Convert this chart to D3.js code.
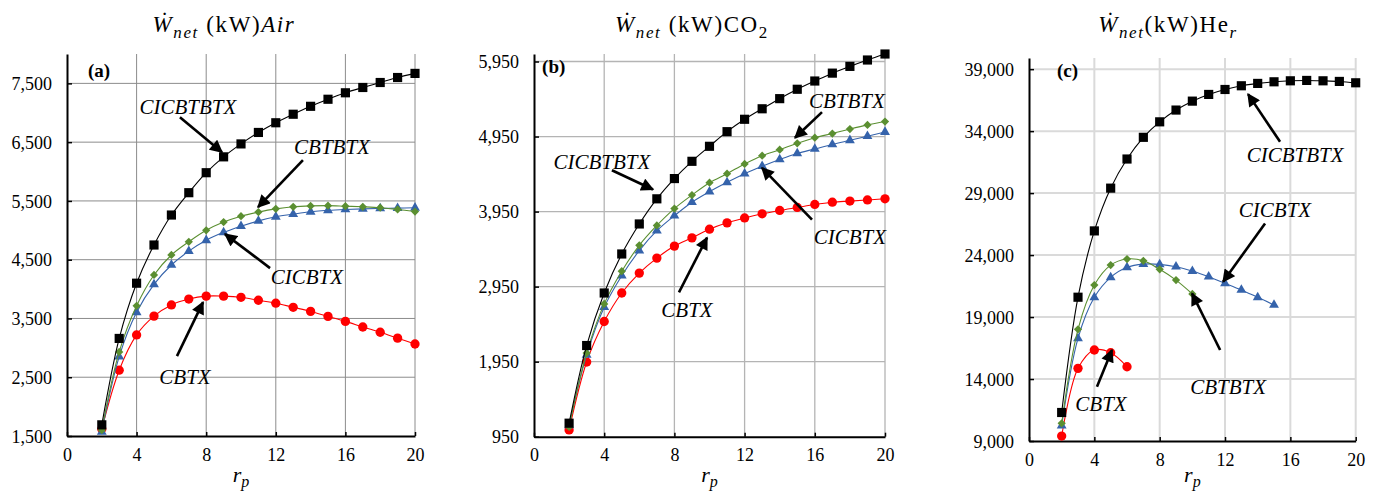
<!DOCTYPE html>
<html><head><meta charset="utf-8">
<script src="https://cdn.jsdelivr.net/npm/d3@7"></script>
<style>body{margin:0;background:#fff}svg{display:block}
text{font-family:"Liberation Serif","Times New Roman",Times,serif;}</style>
</head><body>
<svg id="c" width="1381" height="492"></svg>
<script>
// ---------- data ----------
const rpFull = [2,3,4,5,6,7,8,9,10,11,12,13,14,15,16,17,18,19,20];
const xTicks = [0,4,8,12,16,20];

const airCICBTBTX = [1690,3160,4100,4750,5260,5640,5980,6250,6470,6665,6830,6975,7110,7230,7340,7430,7515,7600,7670];
const airCBTBTX   = [1600,2930,3715,4240,4580,4805,5000,5140,5240,5310,5365,5400,5415,5420,5410,5400,5385,5355,5320];
const airCICBTX   = [1570,2850,3605,4080,4410,4645,4830,4965,5070,5160,5230,5275,5315,5340,5355,5365,5372,5378,5383];
const airCBTX     = [1620,2620,3220,3540,3730,3830,3880,3880,3860,3810,3760,3690,3620,3535,3450,3355,3265,3165,3065];
const airYTicks   = [1500,2500,3500,4500,5500,6500,7500];

const co2CICBTBTX = [1130,2165,2865,3385,3785,4120,4390,4620,4820,5015,5180,5320,5455,5580,5690,5795,5885,5970,6050];
const co2CBTBTX   = [1080,2065,2720,3155,3500,3765,3990,4170,4335,4455,4585,4695,4775,4860,4935,4990,5050,5105,5150];
const co2CICBTX   = [1100,2040,2675,3095,3430,3695,3895,4075,4215,4340,4455,4555,4645,4725,4785,4845,4900,4955,5010];
const co2CBTX     = [1040,1945,2485,2865,3130,3330,3490,3600,3715,3800,3865,3920,3965,4005,4045,4075,4090,4105,4120];
const co2YTicks   = [950,1950,2950,3950,4950,5950];

const heRpCBTBTX = [2,3,4,5,6,7,8,9,10];
const heRpCICBTX = [2,3,4,5,6,7,8,9,10,11,12,13,14,15];
const heRpCBTX   = [2,3,4,5,6];
const heCICBTBTX = [11300,20600,25950,29400,31750,33500,34750,35700,36420,36960,37360,37660,37850,37980,38060,38090,38060,38010,37900];
const heCBTBTX   = [10430,18010,21580,23190,23680,23540,22850,21980,20860];
const heCICBTX   = [10230,17280,20590,22200,23010,23270,23250,23060,22710,22250,21720,21180,20590,19970];
const heCBTX     = [9400,14860,16340,16120,14990];
const heYTicks   = [9000,14000,19000,24000,29000,34000,39000];

// series styles
const styles = {
  CICBTBTX:{color:"#000000", sym:"square"},
  CBTBTX:{color:"#5b8f31", sym:"diamond"},
  CICBTX:{color:"#3563ab", sym:"triangle"},
  CBTX:{color:"#ff0000", sym:"circle"}
};

// annotations in data units: label position, arrow start, arrow end
const panels = [
  {
    id:"a", title:[["Ẇ","i",0],["net","is",1],[" (kW)","n",-1],["Air","i",0]],
    left:67, right:415, top:54, bottom:436, yDomain:[1500,8000], yTicks:airYTicks, grid:"#8c8c8c", gridW:1,
    tag:[1.21,7724], titleX:224,
    series:[["CBTX",rpFull,airCBTX],["CICBTX",rpFull,airCICBTX],["CBTBTX",rpFull,airCBTBTX],["CICBTBTX",rpFull,airCICBTBTX]],
    notes:[["CICBTBTX",[6.95,7112],[6.49,6925],[8.91,6330]],
           ["CBTBTX",[15.23,6415],[13.56,6194],[10.98,5395]],
           ["CICBTX",[13.79,4204],[11.67,4357],[9.08,4935]],
           ["CBTX",[6.78,2503],[6.32,2860],[7.82,3779]]]
  },
  {
    id:"b", title:[["Ẇ","i",0],["net","is",1],[" (kW)CO","n",-1],["2","ns",1]],
    left:534, right:885, top:54, bottom:436.7, yDomain:[950,6050], yTicks:co2YTicks, grid:"#b4b4b4", gridW:1.3,
    tag:[0.46,5879], titleX:692,
    series:[["CBTX",rpFull,co2CBTX],["CICBTX",rpFull,co2CICBTX],["CBTBTX",rpFull,co2CBTBTX],["CICBTBTX",rpFull,co2CICBTBTX]],
    notes:[["CICBTBTX",[3.87,4622],[4.44,4501],[6.78,4244]],
           ["CBTBTX",[17.83,5432],[16.41,5276],[14.87,4934]],
           ["CICBTX",[18.0,3620],[15.84,3843],[12.99,4533]],
           ["CBTX",[8.72,2642],[8.26,2873],[9.86,3603]]]
  },
  {
    id:"c", title:[["Ẇ","i",0],["net","is",1],["(kW)He","n",-1],["r","is",1]],
    left:1029, right:1355.7, top:58, bottom:441, yDomain:[9000,39900], yTicks:heYTicks, grid:"#dadada", gridW:2,
    tag:[1.71,38919], titleX:1168,
    series:[["CBTX",heRpCBTX,heCBTX],["CICBTX",heRpCICBTX,heCICBTX],["CBTBTX",heRpCBTBTX,heCBTBTX],["CICBTBTX",rpFull,heCICBTBTX]],
    notes:[["CICBTBTX",[16.29,32065],[15.37,33137],[13.41,36984]],
           ["CICBTX",[15.06,27629],[14.45,26556],[11.88,21847]],
           ["CBTBTX",[12.19,13379],[11.70,16339],[9.98,20911]],
           ["CBTX",[4.41,12040],[4.16,13379],[5.08,16339]]]
  }
];

const svg = d3.select("#c");

svg.append("defs").append("marker")
  .attr("id","ah").attr("viewBox","0 0 10 10").attr("refX",9).attr("refY",5)
  .attr("markerWidth",14).attr("markerHeight",13).attr("markerUnits","userSpaceOnUse")
  .attr("orient","auto")
  .append("path").attr("d","M0,0 L10,5 L0,10 z").attr("fill","#000");

const fmt = d3.format(",");

panels.forEach(p => {
  const x = d3.scaleLinear().domain([0,20]).range([p.left,p.right]);
  const y = d3.scaleLinear().domain(p.yDomain).range([p.bottom,p.top]);
  const g = svg.append("g");

  // grid
  g.append("g").selectAll("line").data(xTicks.filter(t=>t>0)).join("line")
    .attr("x1",d=>x(d)).attr("x2",d=>x(d)).attr("y1",p.top).attr("y2",p.bottom)
    .attr("stroke",p.grid).attr("stroke-width",p.gridW);
  g.append("g").selectAll("line").data(p.yTicks.filter(t=>t>p.yDomain[0])).join("line")
    .attr("x1",p.left).attr("x2",p.right).attr("y1",d=>y(d)).attr("y2",d=>y(d))
    .attr("stroke",p.grid).attr("stroke-width",p.gridW);

  // axes
  const xa = g.append("g").attr("transform",`translate(0,${p.bottom})`)
    .call(d3.axisBottom(x).tickValues(xTicks).tickSize(-4).tickPadding(11).tickSizeOuter(0));
  const ya = g.append("g").attr("transform",`translate(${p.left},0)`)
    .call(d3.axisLeft(y).tickValues(p.yTicks).tickSize(-5).tickPadding(15).tickSizeOuter(0).tickFormat(fmt));
  [xa,ya].forEach(a=>{
    a.attr("font-family",null);
    a.select(".domain").attr("stroke","#000").attr("stroke-width",2);
    a.selectAll(".tick line").attr("stroke","#000").attr("stroke-width",1.5);
    a.selectAll("text").attr("font-size",18).attr("fill","#000");
  });
  ya.selectAll("text").attr("dy","0.34em");
  xa.selectAll("text").attr("dy","0.75em");

  // x label
  const xl = svg.append("text").attr("x",(p.left+p.right)/2).attr("y",482)
    .attr("text-anchor","middle").attr("font-size",22);
  xl.append("tspan").attr("font-style","italic").text("r");
  xl.append("tspan").attr("font-style","italic").attr("font-size",16).attr("dy",5).text("p");

  // title
  const tt = svg.append("text").attr("x",p.titleX).attr("y",32)
    .attr("text-anchor","middle").attr("font-size",23).attr("letter-spacing",1.6);
  p.title.forEach(([s,st,sh])=>{
    const ts = tt.append("tspan").text(s);
    if (st.startsWith("i")) ts.attr("font-style","italic");
    if (st.endsWith("s")) ts.attr("font-size",17);
    if (sh) ts.attr("dy",sh*6);
  });

  // series
  p.series.forEach(([name,xs,ys])=>{
    const st = styles[name];
    const pts = xs.map((v,i)=>[v,ys[i]]);
    g.append("path").datum(pts)
      .attr("d",d3.line().x(d=>x(d[0])).y(d=>y(d[1])).curve(d3.curveCatmullRom.alpha(0.5)))
      .attr("fill","none").attr("stroke",st.color).attr("stroke-width",1.1);
    let sym, size, rot=0;
    if (st.sym==="square"){sym=d3.symbolSquare;size=84;}
    else if (st.sym==="diamond"){sym=d3.symbolSquare;size=34;rot=45;}
    else if (st.sym==="triangle"){sym=d3.symbolTriangle;size=42;}
    else {sym=d3.symbolCircle;size=68;}
    g.append("g").selectAll("path").data(pts).join("path")
      .attr("d",d3.symbol(sym,size))
      .attr("transform",d=>`translate(${x(d[0])},${y(d[1])}) rotate(${rot})`)
      .attr("fill",st.color);
  });

  // panel tag
  svg.append("text").attr("x",x(p.tag[0])).attr("y",y(p.tag[1])).attr("dy","0.35em")
    .attr("font-size",19).attr("font-weight","bold").text(`(${p.id})`);

  // annotations
  p.notes.forEach(([label,pos,a0,a1])=>{
    svg.append("text").attr("x",x(pos[0])).attr("y",y(pos[1])).attr("dy","0.35em")
      .attr("text-anchor","middle").attr("font-style","italic")
      .attr("font-size",21).text(label);
    svg.append("line").attr("x1",x(a0[0])).attr("y1",y(a0[1])).attr("x2",x(a1[0])).attr("y2",y(a1[1]))
      .attr("stroke","#000").attr("stroke-width",2.6).attr("marker-end","url(#ah)");
  });
});
</script>
</body></html>
